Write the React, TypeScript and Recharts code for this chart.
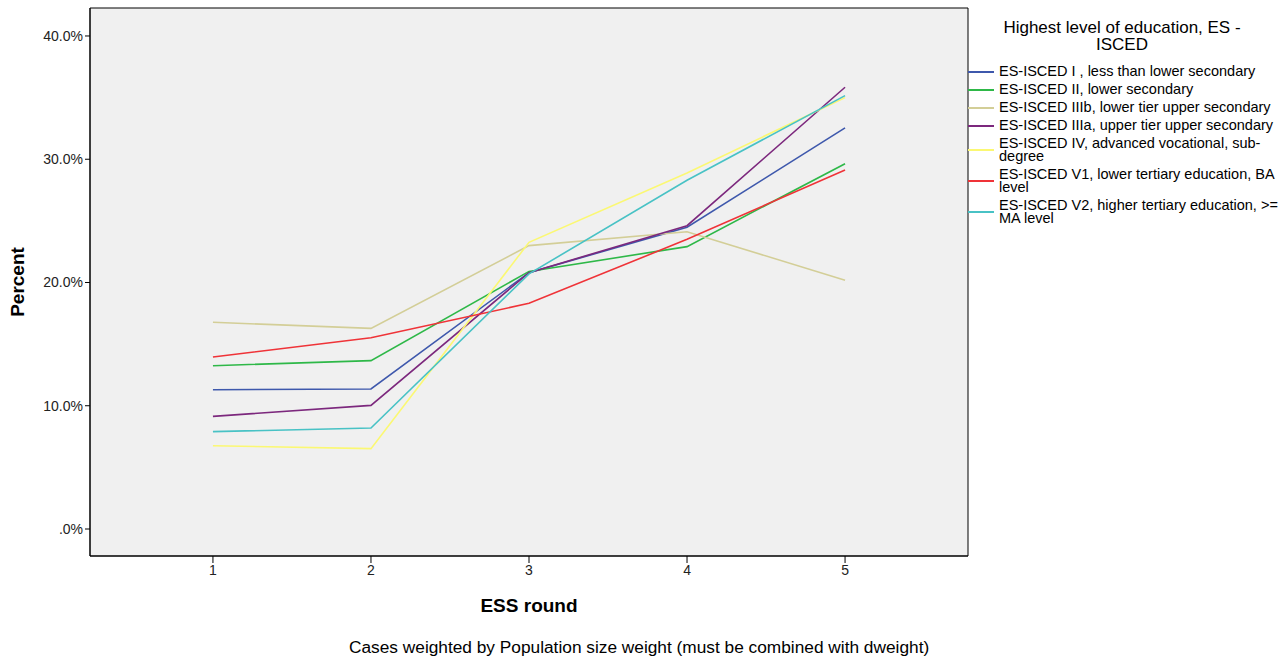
import React from "react";
import { LineChart, Line, XAxis, YAxis, CartesianGrid, ReferenceArea } from "recharts";

const rounds = [1, 2, 3, 4, 5];
const isced1 = [11.3, 11.36, 20.8, 24.48, 32.54];
const isced2 = [13.25, 13.66, 20.9, 22.91, 29.64];
const isced3b = [16.77, 16.28, 22.99, 24.12, 20.18];
const isced3a = [9.14, 10.03, 20.8, 24.61, 35.84];
const isced4 = [6.76, 6.52, 23.26, 28.88, 35.0];
const isced5a = [13.96, 15.52, 18.31, 23.5, 29.13];
const isced5b = [7.9, 8.19, 20.7, 28.3, 35.16];
const yTicks = [0, 10, 20, 30, 40];

const seriesDefs = [
  { key: "s1", name: "ES-ISCED I , less than lower secondary", values: isced1, color: "#3e58ac", lines: 1 },
  { key: "s2", name: "ES-ISCED II, lower secondary", values: isced2, color: "#2eb848", lines: 1 },
  { key: "s3", name: "ES-ISCED IIIb, lower tier upper secondary", values: isced3b, color: "#d3ce97", lines: 1 },
  { key: "s4", name: "ES-ISCED IIIa, upper tier upper secondary", values: isced3a, color: "#7c287d", lines: 1 },
  { key: "s5", name: "ES-ISCED IV, advanced vocational, sub-degree", values: isced4, color: "#fbf873", lines: 2 },
  { key: "s6", name: "ES-ISCED V1, lower tertiary education, BA level", values: isced5a, color: "#ef3338", lines: 2 },
  { key: "s7", name: "ES-ISCED V2, higher tertiary education, >= MA level", values: isced5b, color: "#48c2c5", lines: 2 },
];

const data = rounds.map((r, i) => {
  const row: any = { round: r };
  seriesDefs.forEach((s) => (row[s.key] = s.values[i]));
  return row;
});

const FONT = "'Liberation Sans', Arial, sans-serif";

const LegendBox = () => (
  <div style={{ position: "absolute", left: 968, top: 19, width: 312, fontFamily: FONT, color: "#000" }}>
    <div style={{ textAlign: "center", fontSize: 17, lineHeight: "17px", width: 308, marginBottom: 12 }}>
      Highest level of education, ES -<br />ISCED
    </div>
    {seriesDefs.map((s) => (
      <div key={s.key} style={{ display: "flex", alignItems: "flex-start", marginBottom: 5, height: s.lines === 2 ? 26 : 13 }}>
        <div style={{ width: 26, height: 2, background: s.color, marginTop: s.lines === 2 ? 12 : 6, flexShrink: 0 }} />
        <div style={{ fontSize: 14.5, lineHeight: "13px", marginLeft: 5, width: 280, whiteSpace: "normal" }}>{s.name}</div>
      </div>
    ))}
  </div>
);

export default function App() {
  return (
    <div style={{ position: "absolute", left: 0, top: 0, width: 1283, height: 659, background: "#fff" }}>
      <LineChart
        width={1283}
        height={659}
        data={data}
        margin={{ top: 8, right: 315, bottom: 73, left: 30 }}
      >
        <CartesianGrid fill="#f0f0f0" horizontal={false} vertical={false} />
        <ReferenceArea x1={0.222} x2={5.778} y1={-2.19} y2={42.27} fill="none" stroke="#000" strokeWidth={1} ifOverflow="visible" />
        <XAxis
          dataKey="round"
          type="number"
          domain={[0.222, 5.778]}
          ticks={rounds}
          allowDataOverflow
          height={30}
          tickSize={7}
          tick={{ fill: "#222", fontSize: 14, fontFamily: FONT }}
          stroke="#000"
          tickLine={{ stroke: "#000" }}
          label={() => (
            <text x={529} y={612} textAnchor="middle" fontFamily={FONT} fontWeight="bold" fontSize={19} fill="#000">
              ESS round
            </text>
          )}
        />
        <YAxis
          type="number"
          domain={[-2.19, 42.27]}
          ticks={yTicks}
          allowDataOverflow
          width={60}
          tickSize={5}
          tickFormatter={(v: number) => (v === 0 ? ".0%" : `${v.toFixed(1)}%`)}
          tick={{ fill: "#222", fontSize: 14, fontFamily: FONT }}
          stroke="#000"
          label={() => (
            <text x={24} y={282} textAnchor="middle" transform="rotate(-90 24 282)" fontFamily={FONT} fontWeight="bold" fontSize={19} fill="#000">
              Percent
            </text>
          )}
        />
        {seriesDefs.map((s) => (
          <Line
            key={s.key}
            dataKey={s.key}
            name={s.name}
            stroke={s.color}
            strokeWidth={1.6}
            dot={false}
            activeDot={false}
            isAnimationActive={false}
            type="linear"
          />
        ))}
      </LineChart>
      <LegendBox />
      <div
        style={{
          position: "absolute",
          left: 349,
          top: 637,
          fontFamily: FONT,
          fontSize: 17.3,
          lineHeight: "20px",
          color: "#000",
          whiteSpace: "nowrap",
        }}
      >
        Cases weighted by Population size weight (must be combined with dweight)
      </div>
    </div>
  );
}
